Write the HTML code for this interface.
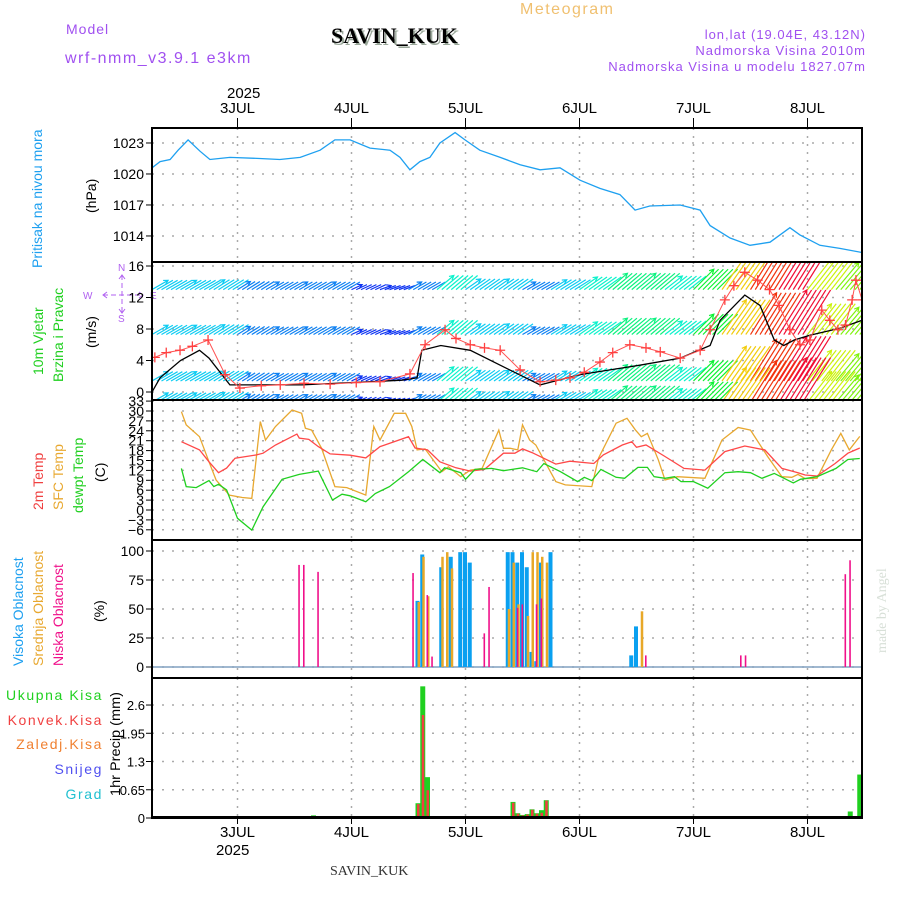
<!DOCTYPE html>
<html><head><meta charset="utf-8"><style>
html,body{margin:0;padding:0;background:#fff;}
svg{display:block;font-family:"Liberation Sans",sans-serif;}
</style></head><body>
<svg id="chart" width="900" height="900" viewBox="0 0 900 900" xmlns="http://www.w3.org/2000/svg">
<rect x="0" y="0" width="900" height="900" fill="#fff"/>
<!-- header -->
<text x="66" y="34" font-size="14" fill="#a050f0" letter-spacing="1">Model</text>
<text x="65" y="63" font-size="16" fill="#a050f0" letter-spacing="1.5">wrf-nmm_v3.9.1 e3km</text>
<text x="520" y="14" font-size="16" fill="#f0c070" letter-spacing="1.5">Meteogram</text>
<text x="333" y="45" font-family="Liberation Serif,serif" font-weight="bold" font-size="22" fill="#9aa89a">SAVIN_KUK</text>
<text x="331" y="43" font-family="Liberation Serif,serif" font-weight="bold" font-size="22" fill="#000">SAVIN_KUK</text>
<text x="866" y="39" font-size="13" fill="#a050f0" text-anchor="end" letter-spacing="1">lon,lat (19.04E, 43.12N)</text>
<text x="866" y="55" font-size="13" fill="#a050f0" text-anchor="end" letter-spacing="1">Nadmorska Visina 2010m</text>
<text x="866" y="71" font-size="13" fill="#a050f0" text-anchor="end" letter-spacing="1">Nadmorska Visina u modelu 1827.07m</text>
<text x="227" y="98" font-size="15" fill="#000">2025</text>
<text x="216" y="855" font-size="15" fill="#000">2025</text>
<text x="330" y="875" font-family="Liberation Serif,serif" font-size="14" fill="#333">SAVIN_KUK</text>
<text transform="translate(886,653) rotate(-90)" font-family="Liberation Serif,serif" font-size="14" fill="#d8e0d8">made by Angel</text>
<!-- left labels -->
<text transform="translate(42,268) rotate(-90)" font-size="14" fill="#1ea0f0">Pritisak na nivou mora</text>
<text transform="translate(96,213) rotate(-90)" font-size="14" fill="#000">(hPa)</text>
<text transform="translate(43,375) rotate(-90)" font-size="14" fill="#20d020">10m Vjetar</text>
<text transform="translate(63,382) rotate(-90)" font-size="14" fill="#20d020">Brzina i Pravac</text>
<text transform="translate(96,348) rotate(-90)" font-size="14" fill="#000">(m/s)</text>
<g fill="#b060f0" font-size="10" stroke="#b060f0" stroke-width="1">
<text x="118" y="271" stroke="none">N</text><text x="118" y="322" stroke="none">S</text><text x="83" y="299" stroke="none">W</text><text x="150" y="299" stroke="none">E</text>
<line x1="103" y1="295" x2="143" y2="295" stroke-dasharray="5,3"/>
<line x1="122" y1="275" x2="122" y2="313" stroke-dasharray="5,3"/>
<path d="M107,292 L103,295 L107,298 M139,292 L143,295 L139,298 M119,279 L122,275 L125,279 M119,309 L122,313 L125,309" fill="none"/>
</g>
<text transform="translate(43,510) rotate(-90)" font-size="14" fill="#f04040">2m Temp</text>
<text transform="translate(63,510) rotate(-90)" font-size="14" fill="#e8a830">SFC Temp</text>
<text transform="translate(83,513) rotate(-90)" font-size="14" fill="#20d020">dewpt Temp</text>
<text transform="translate(105,482) rotate(-90)" font-size="14" fill="#000">(C)</text>
<text transform="translate(23,666) rotate(-90)" font-size="14" fill="#1ea0f0">Visoka Oblacnost</text>
<text transform="translate(43,666) rotate(-90)" font-size="14" fill="#e8a830">Srednja Oblacnost</text>
<text transform="translate(63,666) rotate(-90)" font-size="14" fill="#f0108a">Niska Oblacnost</text>
<text transform="translate(104,622) rotate(-90)" font-size="14" fill="#000">(%)</text>
<text x="103" y="700" font-size="14" fill="#20d020" text-anchor="end" letter-spacing="1.6">Ukupna Kisa</text>
<text x="103" y="725" font-size="14" fill="#f04040" text-anchor="end" letter-spacing="1.6">Konvek.Kisa</text>
<text x="103" y="749" font-size="14" fill="#f08030" text-anchor="end" letter-spacing="1.6">Zaledj.Kisa</text>
<text x="103" y="774" font-size="14" fill="#5050f0" text-anchor="end" letter-spacing="1.6">Snijeg</text>
<text x="103" y="799" font-size="14" fill="#20c0d0" text-anchor="end" letter-spacing="1.6">Grad</text>
<text transform="translate(120,796) rotate(-90)" font-size="14" fill="#000" textLength="104" lengthAdjust="spacingAndGlyphs">1hr Precip (mm)</text>
<g id="plot"></g>
</svg>
<script>
// ---------- data ----------
const dayLabels = ["3JUL","4JUL","5JUL","6JUL","7JUL","8JUL"];
const dayHours = [18,42,66,90,114,138];
const pressHours = [0,1.7,3.8,5.5,7.6,10.1,12.2,16.4,22.7,26.9,31.2,35.4,38.5,41.7,45.9,50.1,52.2,54.3,56.4,58.5,60.6,63.8,65.9,69,73.3,77.5,81.7,85.9,90.1,94.3,98.5,101.7,104.8,111.2,115.4,117.5,121.7,125.9,130.1,134.3,136.4,140.6,144.8,149.5];
const pressVals = [1020.6,1021.2,1021.4,1022.3,1023.3,1022.2,1021.4,1021.6,1021.5,1021.4,1021.6,1022.3,1023.3,1023.3,1022.5,1022.3,1021.6,1020.4,1021.2,1021.6,1023,1024,1023.3,1022.3,1021.6,1020.9,1020.4,1020.6,1019.4,1018.6,1018,1016.5,1016.9,1017,1016.5,1015,1013.8,1013.1,1013.4,1014.8,1014.1,1013.1,1012.8,1012.4];
const pressTicks = [1014,1017,1020,1023];
const gustHours = [0.6,3,5.9,8.5,11.8,15.4,18.5,23,27,32,37.5,43,48,54.3,57.5,61.7,64,67,70,73.3,77.5,81.7,85,88,91,94.3,97,100.6,104,107,111.2,115.4,117.5,120.6,122.5,124.8,127.5,130,132,134.3,136.4,138.5,141,142.7,144.4,146,147.4,148.2,149.5];
const gustVals = [4.4,5,5.3,5.8,6.6,2.2,0.5,0.8,0.9,1.1,1.0,1.2,1.3,2.3,6,7.9,6.8,6,5.6,5.3,2.8,1.3,1.5,1.8,2.5,3.8,5,6,5.6,5.1,4.3,5.3,7.9,11.7,13.5,15.2,14.2,13,11,7.9,6,6.6,10.4,9.1,7.9,8.5,11.7,14.2,11.7];
const spdHours = [0,1.7,6,10,12,16.4,31.6,52.6,55.8,56.8,60.8,67,73.3,81.7,90,96.4,102.7,111.2,117.5,119.6,124.8,128,131,133,135.2,138.5,144.8,149.5];
const spdVals = [0,1.8,4,5.3,4.3,0.9,0.9,1.5,1.8,5.3,5.9,5.3,3.4,0.9,2.2,2.8,3.4,4.3,5.9,9.1,12.3,11,6.6,5.9,6.6,7.2,8.1,9.1];
const windHours = [0,6,12,18,24,30,36,42,48,54,60,66,72,78,84,90,96,102,108,114,120,126,132,138,144,150];
const windSpeed = [4,4,4,3,3,3,3,2,2,3,5,4,4,3,4,5,6,6,5,7,11,13,14,10,9,8];
const windDir = [30,30,32,32,30,30,30,25,20,30,40,35,35,30,32,35,40,40,38,45,55,58,58,52,50,50];
const windLevels = [13,7.3,1.4,-1.3];
const tHours = [6.2,10,12,14,15.7,17.5,22,23.4,26,30.5,31,33,35,37.5,41.7,45,48,54,55.4,58,60.6,64,67,70,74,76.4,78,80,85,88,93,95,99,101,102,104,108,112,116.4,120.6,124.8,129,132.6,136,137.5,140,143.8,146.5,149];
const t2m = [20.7,18.2,14.6,11.3,12.7,15.7,16.7,17.2,19.7,23,21.8,21.4,19.2,17,16.6,15.8,19.2,22.2,18.8,18.2,14.6,12.8,11.8,12.3,17.2,17.2,18.5,17.4,13.9,14.8,14.1,16.7,19.7,20.7,19,19.7,16.2,12.6,12.1,17.7,19.4,18.2,12.6,11.3,10.6,10.3,14.1,17.2,18.8];
const sfcHours = [6.2,7.2,10,12,13.5,16.3,19,21,22.8,23.9,26,29.5,31.5,32.3,33.6,35.7,38.5,41,45,46.7,48,51,53.4,54.7,55.8,57.5,61,62.4,65,67,69.5,71.5,73,74,75.4,77,78,79.5,80.8,85,87,92.6,94,97.7,100,101.8,103,104.3,106.6,108,110.6,116.4,120,123.4,126,129.6,132.6,134.7,136,137.5,140,143,145,146.8,149];
const sfcT = [29.8,25.8,22.2,14.6,9.1,4.5,3.8,3.5,26.8,21.2,25.3,30.3,29.3,24.8,24.2,18.7,7.1,6.8,4.5,25.3,21.2,29.3,29.3,25.3,18.2,18.5,11.6,13.1,10.1,12.1,12.6,19.2,24.2,18.7,18.7,18.2,25.8,21.2,19.7,8.6,7.6,7.1,15.7,26.3,27.8,24.2,22.2,23.2,15.2,9.1,10.1,9.6,21.2,25,24.2,16.2,10.1,9.9,10.8,9.5,9.6,18.2,23.2,18.2,22.3];
const dewHours = [6.2,7.2,9.3,12,13,14,15.7,18,21,23.4,27.4,31,35,38,40,41.7,45,47,50,54,57,60.6,61.6,65,66,68,71.5,74,78,81,82.5,86,89.6,91,92.6,94.5,97.7,99.5,102.3,104.3,105.7,108,110,111.4,114,117,120.6,123.4,126,128.4,131,135,136.5,140,144,146.5,149];
const dewT = [12.6,7.1,6.8,8.9,7.1,7.8,6.1,-2.5,-6.1,1,9.3,10.8,11.8,3,4.8,4.3,2.5,5,7.1,11.6,15.3,11.3,12.8,11.3,9.3,12.3,12.6,11.9,12.8,11.6,14.1,11.6,8.6,9.9,8.9,12.3,9.9,9.6,12.9,12.9,10.1,9.6,10.1,8.6,8.6,6.6,11.3,11.6,11.3,9.6,11.1,8.2,9.3,10.1,12.6,15.3,15.6];
const tempTicks = [-6,-3,0,3,6,9,12,15,18,21,24,27,30,33];
const highHours = [56,57,61,63,65,66,67,75,76,77,78,79,80,81,82,84,101,102];
const highVals = [57,97,86,95,99,99,90,99,99,90,99,86,13,5,90,99,10,35];
const midHours = [56,57,58,61,62,63,75,76,77,79,80,81,82,83,103];
const midVals = [56,95,61,95,99,85,50,90,54,44,99,99,95,90,48];
const lowHours = [31,32,35,55,58,59,70,71,77,78,81,82,104,124,125,146,147];
const lowVals = [88,88,82,81,62,9,29,69,51,54,54,59,10,10,10,80,92];
const cloudTicks = [0,25,50,75,100];
const precipHours = [31,34,56,57,58,59,75,76,77,78,79,80,81,82,83,147,149];
const precipTotal = [0.02,0.06,0.34,3.03,0.94,0.03,0.03,0.37,0.11,0.07,0.09,0.2,0.11,0.18,0.41,0.15,1.0];
const precipConv = [0,0.04,0.32,2.37,0.64,0.02,0.02,0.35,0.1,0.06,0.08,0.19,0.1,0.12,0.4,0,0];
const precipTicks = [0,0.65,1.3,1.95,2.6];

// ---------- layout ----------
const NS = "http://www.w3.org/2000/svg";
const plot = document.getElementById("plot");
const X0 = 152, X1 = 862, PXH = 4.75;
const x = h => X0 + h * PXH;
const panels = {
  press:{top:128,bot:262,min:1011.48,max:1024.45},
  wind:{top:262,bot:400,min:-1.016,max:16.508},
  temp:{top:400,bot:540,min:-9.09,max:33.33},
  cloud:{top:540,bot:678,min:-9.48,max:109.48},
  precip:{top:678,bot:818,min:0,max:3.222}
};
function yS(p){ return v => p.bot - (v - p.min) / (p.max - p.min) * (p.bot - p.top); }
function mk(tag, attrs, parent){
  const el = document.createElementNS(NS, tag);
  for (const k in attrs) el.setAttribute(k, attrs[k]);
  (parent || plot).appendChild(el);
  return el;
}
const defs = mk("defs", {});
for (const key in panels){
  const p = panels[key];
  const cp = mk("clipPath", {id:"clip-"+key}, defs);
  mk("rect", {x:X0, y:p.top, width:X1-X0, height:p.bot-p.top}, cp);
}

function gridAndAxis(key, ticks, fmt, fs){
  const p = panels[key], y = yS(p);
  const g = mk("g", {});
  
  
  ticks.forEach(t => {
    const yy = y(t);
    const gl = mk("line", {x1:X0, x2:X1, y1:yy, y2:yy, stroke:"#aaa", "stroke-width":1.5, "stroke-dasharray":"2,8"}, g);
    
    
    const tk = mk("line", {x1:X0-6, x2:X0, y1:yy, y2:yy, stroke:"#000"}, g);
    
    
    const tx = mk("text", {x:X0-(fs ? 7 : 8), y:yy+5, "font-size":fs || 14, "text-anchor":"end", fill:"#000"}, g);
    tx.textContent = fmt ? fmt(t) : String(t);
    
    
  });
  dayHours.forEach(h => {
    const vl = mk("line", {x1:x(h), x2:x(h), y1:p.top, y2:p.bot, stroke:"#aaa", "stroke-width":1.5, "stroke-dasharray":"2,6"}, g);
    
    
  });
}
gridAndAxis("press", pressTicks);
gridAndAxis("wind", [0,4,8,12,16]);
gridAndAxis("temp", tempTicks, t => t < 0 ? "\u2212" + (-t) : String(t));
gridAndAxis("cloud", cloudTicks);
gridAndAxis("precip", precipTicks, null, 13);

function linePath(hs, vs, y){ return hs.map((h,i) => (i?"L":"M") + x(h).toFixed(1) + "," + y(vs[i]).toFixed(1)).join(""); }

// pressure
{
  const y = yS(panels.press);
  const pl = mk("path", {d:linePath(pressHours, pressVals, y), fill:"none", stroke:"#1ea0f0", "stroke-width":1.3, "clip-path":"url(#clip-press)"});
  
  
}
// wind arrows
{
  const y = yS(panels.wind);
  const g = mk("g", {"clip-path":"url(#clip-wind)"});
  
  
  windLevels.forEach(lv => {
    for (let i = 0; i < windHours.length; i++){
      const s = windSpeed[i], d = windDir[i];
      const hue = ((270 - s * 20) % 360 + 360) % 360;
      const col = "hsl(" + hue + ",90%,50%)";
      const len = 5 + s * 3.4, a = d * Math.PI / 180;
      const x0 = x(windHours[i]), y0 = y(lv);
      const x1 = x0 + len * Math.cos(a), y1 = y0 - len * Math.sin(a);
      const ar = mk("path", {d:"M"+x0+","+y0+"L"+x1+","+y1+"M"+(x1-5*Math.cos(a-0.5))+","+(y1+5*Math.sin(a-0.5))+"L"+x1+","+y1+"L"+(x1-5*Math.cos(a+0.5))+","+(y1+5*Math.sin(a+0.5)), stroke:col, "stroke-width":1.2, fill:"none"}, g);
      
      
      for (let k = 1; k < 6; k++){
        const xs = x0 + k * PXH;
        if (xs > X1 + 5) break;
        const ar2 = mk("path", {d:"M"+xs+","+y0+"L"+(xs+len*Math.cos(a))+","+(y0-len*Math.sin(a)), stroke:col, "stroke-width":1.2, fill:"none"}, g);
        
        
      }
    }
  });
  const sp = mk("path", {d:linePath(spdHours, spdVals, y), fill:"none", stroke:"#000", "stroke-width":1.3, "clip-path":"url(#clip-wind)"});
  
  
  const gl = mk("path", {d:linePath(gustHours, gustVals, y), fill:"none", stroke:"#ff5050", "stroke-width":1, "clip-path":"url(#clip-wind)"});
  
  
  gustHours.forEach((h,i) => {
    const cx = x(h), cy = y(gustVals[i]);
    const c = mk("path", {d:"M"+(cx-5)+","+cy+"H"+(cx+5)+"M"+cx+","+(cy-5)+"V"+(cy+5), stroke:"#ff4040", "stroke-width":1.3, "clip-path":"url(#clip-wind)"});
    
    
  });
}
// temperature
{
  const y = yS(panels.temp);
  const a = mk("path", {d:linePath(sfcHours, sfcT, y), fill:"none", stroke:"#e8a830", "stroke-width":1.3, "clip-path":"url(#clip-temp)"});
  
  
  const b = mk("path", {d:linePath(tHours, t2m, y), fill:"none", stroke:"#ff4848", "stroke-width":1.3, "clip-path":"url(#clip-temp)"});
  
  
  const c = mk("path", {d:linePath(dewHours, dewT, y), fill:"none", stroke:"#20d020", "stroke-width":1.3, "clip-path":"url(#clip-temp)"});
  
  
}
// clouds
{
  const y = yS(panels.cloud);
  const base = mk("line", {x1:X0, x2:X1, y1:y(0), y2:y(0), stroke:"#80a0c0", "stroke-width":1.5});
  
  
  highHours.forEach((h,i) => {
    const r = mk("rect", {x:x(h)-2.5, y:y(highVals[i]), width:4, height:y(0)-y(highVals[i]), fill:"#0aa0f0"});
    
    
  });
  midHours.forEach((h,i) => {
    const r = mk("rect", {x:x(h)-0.5, y:y(midVals[i]), width:2.5, height:y(0)-y(midVals[i]), fill:"#e8a828"});
    
    
  });
  lowHours.forEach((h,i) => {
    const r = mk("rect", {x:x(h)-1, y:y(lowVals[i]), width:1.6, height:y(0)-y(lowVals[i]), fill:"#f0108a"});
    
    
  });
}
// precip
{
  const y = yS(panels.precip);
  precipHours.forEach((h,i) => {
    const r = mk("rect", {x:x(h)-2.5, y:y(precipTotal[i]), width:5, height:y(0)-y(precipTotal[i]), fill:"#20d020"});
    
    
    const c = mk("rect", {x:x(h)-1, y:y(precipConv[i]), width:2.5, height:y(0)-y(precipConv[i]), fill:"#f04040"});
    
    
  });
  const base = mk("line", {x1:X0, x2:X1, y1:y(0)-1, y2:y(0)-1, stroke:"#000", "stroke-width":2});
  
  
}
// frames and day labels
for (const key in panels){
  const p = panels[key];
  const fr = mk("rect", {x:X0, y:p.top, width:X1-X0, height:p.bot-p.top, fill:"none", stroke:"#000", "stroke-width":2});
  
  
}
dayHours.forEach((h,i) => {
  const t1 = mk("text", {x:x(h), y:113, "font-size":15, "text-anchor":"middle", fill:"#000"});
  t1.textContent = dayLabels[i];
  
  
  const t2 = mk("text", {x:x(h), y:837, "font-size":15, "text-anchor":"middle", fill:"#000"});
  t2.textContent = dayLabels[i];
  
  
  const tk = mk("line", {x1:x(h), x2:x(h), y1:118, y2:128, stroke:"#000"});
  
  
  const tk2 = mk("line", {x1:x(h), x2:x(h), y1:818, y2:824, stroke:"#000"});
  
  
});
</script>
</body></html>
